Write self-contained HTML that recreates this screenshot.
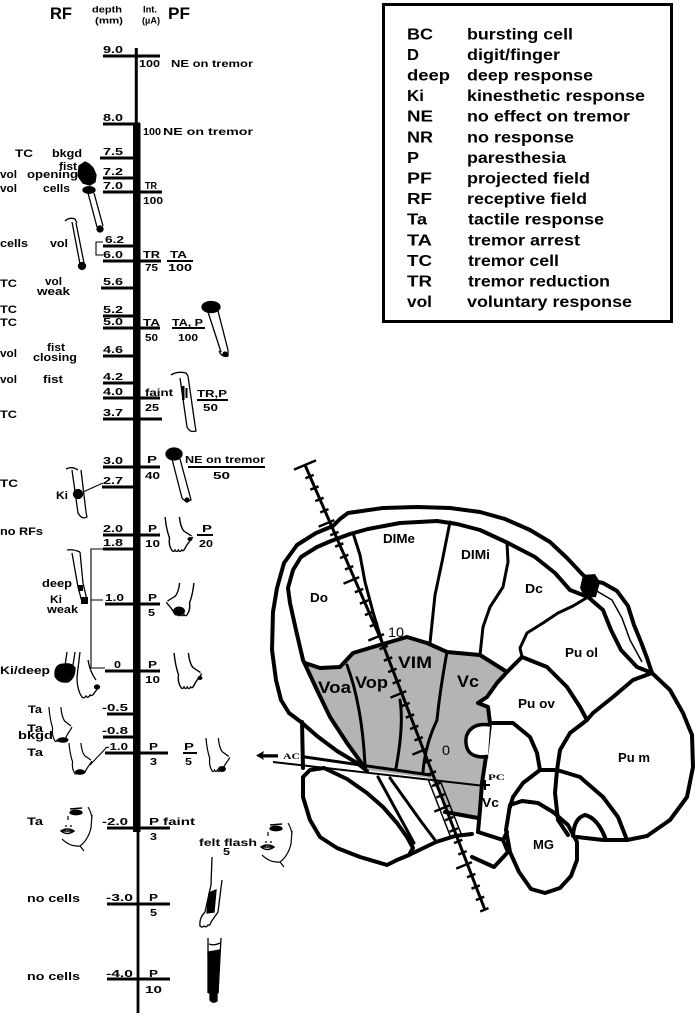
<!DOCTYPE html>
<html><head><meta charset="utf-8"><style>
html,body{margin:0;padding:0;background:#fff;}
svg{display:block}
text{font-family:"Liberation Sans",Arial,sans-serif;font-weight:bold;fill:#000}
.r{font-size:10.5px}
.l{font-size:11px}
.d{font-size:10px}
.g{font-size:16px}
.bn{font-size:13px}
.bv{font-size:17px}
.nm{font-weight:normal;font-size:14px}
.sf{font-family:"Liberation Serif",serif;font-size:8px}
</style></head><body>
<svg width="700" height="1016" viewBox="0 0 700 1016" xmlns="http://www.w3.org/2000/svg">
<defs>
<g id="h"><path d="M1,0 Q2,12 5,21 Q4,28 7,33 q1.5,3 3,0 q1.5,3 3,0 q1.5,3 3,0 q1.5,2 3,-1.5 Q21,27 25,22 L26,20 M14,0 Q15,10 18,14 L25,19" fill="none" stroke="#000" stroke-width="1.3"/></g>
<g id="face">
<path d="M70,809 L82,808" stroke="#000" stroke-width="1.5"/>
<ellipse cx="76" cy="812.5" rx="6" ry="2.2" fill="#000"/>
<path d="M68,816 L68,820 M65,826 l2,0 M70,826 l2,0" stroke="#000" stroke-width="1.2"/>
<path d="M61,831 Q67,827 74,831 Q67,836 61,831 Z M62,831 L73,831" fill="none" stroke="#000" stroke-width="1.4"/>
<path d="M62,839 Q70,847 80,846 Q88,840 91,828 L92,815 M88,807 Q91,812 92,818 M80,846 L84,851" fill="none" stroke="#000" stroke-width="1.2"/>
</g>
</defs>

<!-- header -->
<text x="50" y="19" font-size="17" textLength="22" lengthAdjust="spacingAndGlyphs">RF</text>
<text x="92" y="12.5" font-size="9" textLength="30" lengthAdjust="spacingAndGlyphs">depth</text>
<text x="95" y="23.5" font-size="9" textLength="28" lengthAdjust="spacingAndGlyphs">(mm)</text>
<text x="143" y="12.5" font-size="9" textLength="14" lengthAdjust="spacingAndGlyphs">Int.</text>
<text x="142" y="23.5" font-size="9" textLength="18" lengthAdjust="spacingAndGlyphs">(µA)</text>
<text x="168" y="19" font-size="17" textLength="22" lengthAdjust="spacingAndGlyphs">PF</text>

<!-- legend -->
<rect x="383.5" y="4.5" width="288" height="317" fill="none" stroke="#000" stroke-width="3"/>
<g class="g">
<text x="407" y="39.3" textLength="26" lengthAdjust="spacingAndGlyphs">BC</text><text x="467" y="39.3" textLength="106" lengthAdjust="spacingAndGlyphs">bursting cell</text>
<text x="407" y="59.9" textLength="12" lengthAdjust="spacingAndGlyphs">D</text><text x="467" y="59.9" textLength="93" lengthAdjust="spacingAndGlyphs">digit/finger</text>
<text x="407" y="80.5" textLength="43" lengthAdjust="spacingAndGlyphs">deep</text><text x="467" y="80.5" textLength="126" lengthAdjust="spacingAndGlyphs">deep response</text>
<text x="407" y="101.1" textLength="17" lengthAdjust="spacingAndGlyphs">Ki</text><text x="467" y="101.1" textLength="178" lengthAdjust="spacingAndGlyphs">kinesthetic response</text>
<text x="407" y="121.7" textLength="26" lengthAdjust="spacingAndGlyphs">NE</text><text x="467" y="121.7" textLength="163" lengthAdjust="spacingAndGlyphs">no effect on tremor</text>
<text x="407" y="142.3" textLength="26" lengthAdjust="spacingAndGlyphs">NR</text><text x="467" y="142.3" textLength="107" lengthAdjust="spacingAndGlyphs">no response</text>
<text x="407" y="162.9" textLength="12" lengthAdjust="spacingAndGlyphs">P</text><text x="467" y="162.9" textLength="99" lengthAdjust="spacingAndGlyphs">paresthesia</text>
<text x="407" y="183.5" textLength="25" lengthAdjust="spacingAndGlyphs">PF</text><text x="467" y="183.5" textLength="123" lengthAdjust="spacingAndGlyphs">projected field</text>
<text x="407" y="204.1" textLength="25" lengthAdjust="spacingAndGlyphs">RF</text><text x="467" y="204.1" textLength="120" lengthAdjust="spacingAndGlyphs">receptive field</text>
<text x="407" y="224.7" textLength="20" lengthAdjust="spacingAndGlyphs">Ta</text><text x="468" y="224.7" textLength="136" lengthAdjust="spacingAndGlyphs">tactile response</text>
<text x="407" y="245.3" textLength="25" lengthAdjust="spacingAndGlyphs">TA</text><text x="468" y="245.3" textLength="112" lengthAdjust="spacingAndGlyphs">tremor arrest</text>
<text x="407" y="265.9" textLength="25" lengthAdjust="spacingAndGlyphs">TC</text><text x="468" y="265.9" textLength="91" lengthAdjust="spacingAndGlyphs">tremor cell</text>
<text x="407" y="286.5" textLength="25" lengthAdjust="spacingAndGlyphs">TR</text><text x="468" y="286.5" textLength="142" lengthAdjust="spacingAndGlyphs">tremor reduction</text>
<text x="407" y="307.1" textLength="25" lengthAdjust="spacingAndGlyphs">vol</text><text x="467" y="307.1" textLength="165" lengthAdjust="spacingAndGlyphs">voluntary response</text>
</g>

<!-- main vertical -->
<line x1="136.3" y1="48" x2="136.3" y2="125" stroke="#000" stroke-width="3"/>
<rect x="133" y="123" width="7.5" height="709" fill="#000"/>
<line x1="138" y1="830" x2="138" y2="1013" stroke="#000" stroke-width="2.8"/>

<!-- depth lines -->
<g stroke="#000" stroke-width="3">
<path d="M103,56H160 M103,124H140 M100,158H134 M103,178H134 M103,192H162 M103,246H134 M103,261H161 M101,288H134 M103,316H134 M103,328H160 M103,356H134 M103,383H134 M103,398H160 M103,419H162 M103,467H160 M102,487H134 M103,535H160 M103,549H134 M105,604H160 M105,671H160 M107,714H134 M103,737H134 M105,753H168 M107,828H170 M107,904H170 M107,979H170"/>
</g>
<g stroke="#000" stroke-width="2">
<path d="M167,261H193 M172,328H205 M197,400H228 M188,467H265 M197,535H213 M183,753H197"/>
</g>
<!-- brackets / connectors -->
<g stroke="#000" stroke-width="1.1" fill="none">
<path d="M103,242H96V255H103"/>
<path d="M105,549H91V668H105 M91,600H103"/>
<path d="M83,492L103,483"/>
<path d="M90,765L106,748"/>
</g>

<!-- depth labels -->
<g class="d">
<text x="103" y="53" textLength="20" lengthAdjust="spacingAndGlyphs">9.0</text>
<text x="103" y="121" textLength="20" lengthAdjust="spacingAndGlyphs">8.0</text>
<text x="103" y="155" textLength="20" lengthAdjust="spacingAndGlyphs">7.5</text>
<text x="103" y="175" textLength="20" lengthAdjust="spacingAndGlyphs">7.2</text>
<text x="103" y="189" textLength="20" lengthAdjust="spacingAndGlyphs">7.0</text>
<text x="105" y="243" textLength="19" lengthAdjust="spacingAndGlyphs">6.2</text>
<text x="103" y="258" textLength="20" lengthAdjust="spacingAndGlyphs">6.0</text>
<text x="103" y="285" textLength="20" lengthAdjust="spacingAndGlyphs">5.6</text>
<text x="103" y="313" textLength="20" lengthAdjust="spacingAndGlyphs">5.2</text>
<text x="103" y="325" textLength="20" lengthAdjust="spacingAndGlyphs">5.0</text>
<text x="103" y="353" textLength="20" lengthAdjust="spacingAndGlyphs">4.6</text>
<text x="103" y="380" textLength="20" lengthAdjust="spacingAndGlyphs">4.2</text>
<text x="103" y="395" textLength="20" lengthAdjust="spacingAndGlyphs">4.0</text>
<text x="103" y="416" textLength="20" lengthAdjust="spacingAndGlyphs">3.7</text>
<text x="103" y="464" textLength="20" lengthAdjust="spacingAndGlyphs">3.0</text>
<text x="103" y="484" textLength="20" lengthAdjust="spacingAndGlyphs">2.7</text>
<text x="103" y="532" textLength="20" lengthAdjust="spacingAndGlyphs">2.0</text>
<text x="103" y="546" textLength="20" lengthAdjust="spacingAndGlyphs">1.8</text>
<text x="105" y="601" textLength="19" lengthAdjust="spacingAndGlyphs">1.0</text>
<text x="114" y="668" textLength="7" lengthAdjust="spacingAndGlyphs">0</text>
<text x="102" y="711" textLength="26" lengthAdjust="spacingAndGlyphs">-0.5</text>
<text x="102" y="734" textLength="26" lengthAdjust="spacingAndGlyphs">-0.8</text>
<text x="105" y="750" textLength="23" lengthAdjust="spacingAndGlyphs">-1.0</text>
<text x="102" y="825" textLength="26" lengthAdjust="spacingAndGlyphs">-2.0</text>
<text x="106" y="901" textLength="27" lengthAdjust="spacingAndGlyphs">-3.0</text>
<text x="106" y="977" textLength="27" lengthAdjust="spacingAndGlyphs">-4.0</text>
</g>

<!-- PF labels -->
<g class="r">
<text x="139" y="67" textLength="21" lengthAdjust="spacingAndGlyphs">100</text>
<text x="171" y="67" textLength="82" lengthAdjust="spacingAndGlyphs">NE on tremor</text>
<text x="143" y="135" textLength="18" lengthAdjust="spacingAndGlyphs">100</text>
<text x="163" y="135" textLength="90" lengthAdjust="spacingAndGlyphs">NE on tremor</text>
<text x="145" y="189" textLength="12" lengthAdjust="spacingAndGlyphs">TR</text>
<text x="143" y="204" textLength="20" lengthAdjust="spacingAndGlyphs">100</text>
<text x="143" y="258" textLength="17" lengthAdjust="spacingAndGlyphs">TR</text>
<text x="145" y="271" textLength="13" lengthAdjust="spacingAndGlyphs">75</text>
<text x="170" y="258" textLength="17" lengthAdjust="spacingAndGlyphs">TA</text>
<text x="168" y="271" textLength="24" lengthAdjust="spacingAndGlyphs">100</text>
<text x="143" y="326" textLength="17" lengthAdjust="spacingAndGlyphs">TA</text>
<text x="145" y="341" textLength="13" lengthAdjust="spacingAndGlyphs">50</text>
<text x="172" y="326" textLength="31" lengthAdjust="spacingAndGlyphs">TA, P</text>
<text x="178" y="341" textLength="20" lengthAdjust="spacingAndGlyphs">100</text>
<text x="145" y="396" textLength="28" lengthAdjust="spacingAndGlyphs">faint</text>
<text x="145" y="411" textLength="14" lengthAdjust="spacingAndGlyphs">25</text>
<text x="197" y="397" textLength="30" lengthAdjust="spacingAndGlyphs">TR,P</text>
<text x="203" y="411" textLength="15" lengthAdjust="spacingAndGlyphs">50</text>
<text x="147" y="463" textLength="10" lengthAdjust="spacingAndGlyphs">P</text>
<text x="145" y="479" textLength="15" lengthAdjust="spacingAndGlyphs">40</text>
<text x="185" y="463" textLength="80" lengthAdjust="spacingAndGlyphs">NE on tremor</text>
<text x="213" y="479" textLength="17" lengthAdjust="spacingAndGlyphs">50</text>
<text x="148" y="532" textLength="9" lengthAdjust="spacingAndGlyphs">P</text>
<text x="145" y="547" textLength="15" lengthAdjust="spacingAndGlyphs">10</text>
<text x="202" y="532" textLength="10" lengthAdjust="spacingAndGlyphs">P</text>
<text x="199" y="547" textLength="14" lengthAdjust="spacingAndGlyphs">20</text>
<text x="148" y="601" textLength="9" lengthAdjust="spacingAndGlyphs">P</text>
<text x="148" y="616" textLength="7" lengthAdjust="spacingAndGlyphs">5</text>
<text x="148" y="668" textLength="9" lengthAdjust="spacingAndGlyphs">P</text>
<text x="145" y="683" textLength="15" lengthAdjust="spacingAndGlyphs">10</text>
<text x="149" y="750" textLength="9" lengthAdjust="spacingAndGlyphs">P</text>
<text x="150" y="765" textLength="7" lengthAdjust="spacingAndGlyphs">3</text>
<text x="184" y="750" textLength="10" lengthAdjust="spacingAndGlyphs">P</text>
<text x="185" y="765" textLength="7" lengthAdjust="spacingAndGlyphs">5</text>
<text x="149" y="825" textLength="46" lengthAdjust="spacingAndGlyphs">P faint</text>
<text x="150" y="840" textLength="7" lengthAdjust="spacingAndGlyphs">3</text>
<text x="199" y="846" textLength="58" lengthAdjust="spacingAndGlyphs">felt flash</text>
<text x="223" y="855" textLength="7" lengthAdjust="spacingAndGlyphs">5</text>
<text x="149" y="901" textLength="9" lengthAdjust="spacingAndGlyphs">P</text>
<text x="150" y="916" textLength="7" lengthAdjust="spacingAndGlyphs">5</text>
<text x="149" y="977" textLength="9" lengthAdjust="spacingAndGlyphs">P</text>
<text x="145" y="993" textLength="17" lengthAdjust="spacingAndGlyphs">10</text>
</g>

<!-- RF labels -->
<g class="l">
<text x="15" y="157" textLength="18" lengthAdjust="spacingAndGlyphs">TC</text>
<text x="52" y="157" textLength="30" lengthAdjust="spacingAndGlyphs">bkgd</text>
<text x="59" y="170" textLength="18" lengthAdjust="spacingAndGlyphs">fist</text>
<text x="0" y="178" textLength="17" lengthAdjust="spacingAndGlyphs">vol</text>
<text x="27" y="178" textLength="51" lengthAdjust="spacingAndGlyphs">opening</text>
<text x="0" y="192" textLength="17" lengthAdjust="spacingAndGlyphs">vol</text>
<text x="43" y="192" textLength="27" lengthAdjust="spacingAndGlyphs">cells</text>
<text x="0" y="247" textLength="28" lengthAdjust="spacingAndGlyphs">cells</text>
<text x="50" y="247" textLength="18" lengthAdjust="spacingAndGlyphs">vol</text>
<text x="0" y="287" textLength="17" lengthAdjust="spacingAndGlyphs">TC</text>
<text x="45" y="285" textLength="17" lengthAdjust="spacingAndGlyphs">vol</text>
<text x="37" y="295" textLength="33" lengthAdjust="spacingAndGlyphs">weak</text>
<text x="0" y="313" textLength="17" lengthAdjust="spacingAndGlyphs">TC</text>
<text x="0" y="326" textLength="17" lengthAdjust="spacingAndGlyphs">TC</text>
<text x="0" y="357" textLength="17" lengthAdjust="spacingAndGlyphs">vol</text>
<text x="47" y="351" textLength="18" lengthAdjust="spacingAndGlyphs">fist</text>
<text x="33" y="361" textLength="44" lengthAdjust="spacingAndGlyphs">closing</text>
<text x="0" y="383" textLength="17" lengthAdjust="spacingAndGlyphs">vol</text>
<text x="43" y="383" textLength="20" lengthAdjust="spacingAndGlyphs">fist</text>
<text x="0" y="418" textLength="17" lengthAdjust="spacingAndGlyphs">TC</text>
<text x="0" y="487" textLength="18" lengthAdjust="spacingAndGlyphs">TC</text>
<text x="56" y="499" textLength="12" lengthAdjust="spacingAndGlyphs">Ki</text>
<text x="0" y="535" textLength="43" lengthAdjust="spacingAndGlyphs">no RFs</text>
<text x="42" y="587" textLength="30" lengthAdjust="spacingAndGlyphs">deep</text>
<text x="50" y="603" textLength="12" lengthAdjust="spacingAndGlyphs">Ki</text>
<text x="47" y="613" textLength="31" lengthAdjust="spacingAndGlyphs">weak</text>
<text x="0" y="674" textLength="50" lengthAdjust="spacingAndGlyphs">Ki/deep</text>
<text x="28" y="713" textLength="14" lengthAdjust="spacingAndGlyphs">Ta</text>
<text x="27" y="732" textLength="16" lengthAdjust="spacingAndGlyphs">Ta</text>
<text x="18" y="739" textLength="35" lengthAdjust="spacingAndGlyphs">bkgd</text>
<text x="27" y="756" textLength="16" lengthAdjust="spacingAndGlyphs">Ta</text>
<text x="27" y="825" textLength="16" lengthAdjust="spacingAndGlyphs">Ta</text>
<text x="27" y="902" textLength="53" lengthAdjust="spacingAndGlyphs">no cells</text>
<text x="27" y="980" textLength="53" lengthAdjust="spacingAndGlyphs">no cells</text>
</g>

<!-- drawings -->
<g stroke="#000" stroke-width="1.3" fill="none">
<!-- fist arm -->
<path d="M79,166 L85,162 L89,164 L93,168 L96,175 L95,182 L90,185 L83,183 L78,176 Z" fill="#000"/>
<ellipse cx="89" cy="190" rx="6" ry="3.3" fill="#000"/>
<path d="M88,193 L97,227 M94,193 L103,226"/>
<circle cx="100" cy="229" r="3" fill="#000"/>
<!-- vol arm -->
<path d="M65,221 Q69,217 75,219 L77,223 M72,222 L80,264 M76,223 L84,263"/>
<circle cx="82" cy="266" r="3.5" fill="#000"/>
<!-- arm 5.0 PF -->
<ellipse cx="211" cy="307" rx="9" ry="5.5" fill="#000"/>
<path d="M208,312 L221,352 M218,311 L228,350 M219,351 Q222,358 228,356 L228,350"/>
<circle cx="225" cy="354" r="2" fill="#000"/>
<!-- arm 4.0 PF -->
<path d="M171,375 Q177,371 186,373 L188,376 M180,378 L187,427 M188,376 L195,425 M187,427 Q190,433 196,431 L195,425"/>
<rect x="182" y="386" width="2.5" height="14" fill="#000" stroke="none"/>
<rect x="185.5" y="388" width="2" height="10" fill="#000" stroke="none"/>
<!-- arm 3.0 PF -->
<ellipse cx="174" cy="454" rx="8" ry="6" fill="#000"/>
<path d="M172,459 L182,498 M180,459 L190,496 M182,498 Q186,503 191,500 L190,496"/>
<circle cx="187" cy="500" r="2" fill="#000"/>
<!-- TC Ki arm -->
<path d="M66,469 Q72,466 78,470 M72,470 L78,513 M81,470 L86,512 M78,513 Q82,520 87,517 L86,512"/>
<circle cx="78" cy="494" r="4.5" fill="#000"/>
<!-- deep Ki arm -->
<path d="M67,550 Q73,549 80,552 M72,553 L78,587 L82,602 M80,552 L83,583 L87,600"/>
<rect x="78" y="585" width="5" height="6" fill="#000" stroke="none"/>
<rect x="81" y="597" width="7" height="7" fill="#000" stroke="none"/>
<!-- Ki/deep -->
<path d="M67,652 L65,666 M75,652 L73,665"/>
<path d="M55,672 Q56,664 64,664 Q72,663 75,668 Q75,678 68,682 Q58,683 55,676 Z" fill="#000"/>
<path d="M80,652 L77,677 Q77,690 82,697 q2,2 4,-1 q2,3 4,-1 q2,2 5,-3 L98,688 M88,660 Q90,672 96,680"/>
<ellipse cx="97" cy="687" rx="2.5" ry="2" fill="#000"/>
<!-- faces -->
<use href="#face"/>
<use href="#face" transform="translate(200,16)"/>
<!-- arm -3.0 -->
<path d="M212,857 L211,885 L205,912 M222,880 L218,912 M205,912 Q199,918 200,926 q2,2 4,0 q2,2 4,-1 q2,1 3,-3 L218,912"/>
<path d="M209,893 L216,890 L214,912 L207,913 Z" fill="#000"/>
<!-- leg -4.0 -->
<path d="M208,938 L208,993 M221,938 L218,993 M209,944 Q214,946 220,943"/>
<path d="M208,952 L220,950 L218,993 L209,993 Z" fill="#000"/>
<path d="M210,993 L210,1000 Q213,1004 217,1001 L217,993 Z" fill="#000"/>
</g>
<!-- hands -->
<use href="#h" transform="translate(164,517) scale(1.1,1)"/>
<ellipse cx="190" cy="539" rx="2.5" ry="2"/>
<use href="#h" transform="translate(195,583) scale(-1.1,0.95)"/>
<ellipse cx="179" cy="611" rx="6" ry="4.5"/>
<use href="#h" transform="translate(173,653) scale(1.1,1.03)"/>
<ellipse cx="200" cy="678" rx="2.5" ry="2"/>
<use href="#h" transform="translate(48,707) scale(0.92,1)"/>
<ellipse cx="63" cy="740" rx="5.5" ry="2.8"/>
<use href="#h" transform="translate(68,743) scale(0.92,0.9)"/>
<ellipse cx="80" cy="772" rx="5" ry="2.8"/>
<use href="#h" transform="translate(205,738) scale(0.95,0.97)"/>
<ellipse cx="222" cy="769" rx="4" ry="3"/>

<!-- BRAIN -->
<path d="M305,663 L320,668 L340,667 L353,653 L373,647 L390,642 L407,637 L427,643 L447,652 L480,655 L507,672 L497,683 L487,697 L478,703 L488,707 L490,723 L487,750 L482,783 L480,810 L478,818 L462,816 L448,812 L440,795 L430,778 L365,770 L347,743 L330,717 L317,690 Z" fill="#b4b4b4"/>
<g stroke="#000" stroke-width="4" fill="none" stroke-linejoin="round" stroke-linecap="round">
<path d="M301,722 L289,713 L281,700 L276,680 L272,650 L273,612 L277,588 L284,563 L297,545 L316,533 L333,526 L340,519 L348,513 L383,508 L417,507 L450,508 L480,512 L505,519 L530,530 L550,542 L567,558 L583,575 L590,580 L603,583 L617,591 L628,606 L634,625 L641,642 L647,658 L652,673"/>
<path d="M303,660 L296,630 L290,603 L288,588 L293,570 L301,557 L317,547 L331,541 L350,534 L368,529 L400,523 L437,521 L457,524 L480,530 L508,543 L535,557 L555,573 L570,590 L588,597 L603,610 L611,630 L621,650 L637,667 L652,673"/>
<path d="M303,660 L317,690 L330,717 L347,743 L365,768"/>
<path d="M305,663 L320,668 L340,667 L353,653 L373,647 L390,642 L407,637 L427,643 L447,652 L480,655 L507,672 L522,657"/>
<path d="M507,672 L497,683 L487,697 L478,703 L488,707 L490,723"/>
<path d="M490,723 L487,750 L482,783 L480,810 L478,832"/>
<path d="M652,673 L670,690 L683,713 L692,735 L693,767 L687,797 L670,820 L647,836 L627,840 L603,840 L577,837"/>
<path d="M652,673 L633,680 L613,697 L593,713 L587,720"/>
<path d="M522,657 L547,667 L567,687 L580,707 L587,720"/>
<path d="M587,720 L570,733 L560,750 L557,770 L555,793 L558,820 L568,835"/>
<path d="M490,723 L513,723 L530,737 L537,753 L540,770 L557,770"/>
<path d="M540,770 L523,783 L513,797 L510,807 M557,770 L580,777 L603,797 L618,817 L627,840"/>
<path d="M573,836 Q574,818 585,815 Q598,818 606,840"/>
<path d="M510,805 L522,801 L538,803 L553,812 L568,825 L577,842 L577,860 L571,876 L560,888 L545,893 L531,889 L519,872 L510,852 L506,830 Z"/>
<path d="M478,832 L503,840 L508,852 L494,867 L472,857 M503,840 L507,832"/>
<path d="M301,722 L317,736 L337,751 L357,763 L367,771 M302,722 L303,768"/>
<path d="M303,777 L310,770 L324,768 L347,779 L367,793 L383,807 L397,823 L407,837 L413,848 L409,855 L397,860 L387,865 L360,857 L337,848 L320,837 L310,820 L303,797 Z"/>
<path d="M409,855 L436,842 L455,836 L472,834 M445,812 L478,818"/>
</g>
<g stroke="#000" stroke-width="3" fill="none" stroke-linejoin="round" stroke-linecap="round">
<path d="M353,533 L360,555 L365,582 L373,612 L382,642"/>
<path d="M450,522 L442,562 L435,595 L430,643"/>
<path d="M507,543 L508,562 L503,587 L490,607 L483,627 L480,655"/>
<path d="M588,597 L573,606 L558,613 L543,623 L527,633 L520,648 L522,657"/>
<path d="M347,665 Q362,705 365,765"/>
<path d="M400,700 Q404,725 396,768"/>
<path d="M447,652 Q440,690 437,720 Q425,745 423,772"/>
<path d="M378,777 L414,843 M390,778 L420,820 L435,840"/>
<path d="M305,757 L430,775"/>
</g>
<path d="M583,575 L595,574 L600,582 L596,597 L585,598 L580,588 Z" fill="#000"/>
<path d="M595,590 L612,600 L622,618 L630,640 L642,662" stroke="#000" stroke-width="1.5" fill="none"/>
<path d="M490,725 C470,722 463,735 467,748 C470,757 482,758 488,756" fill="#fff" stroke="#000" stroke-width="3.5"/>
<path d="M428,779 L451,838 M440,780 L462,836" stroke="#000" stroke-width="1.5" fill="none"/>
<!-- AC-PC -->
<path d="M273,762 L485,786" stroke="#000" stroke-width="2"/>
<path d="M256,755.5 L264,751 L263,754.3 L278,754.3 L278,757.5 L263,757.5 L264,760 Z" fill="#000"/>
<path d="M480,785 H490 M485,780 V790" stroke="#000" stroke-width="2"/>
<text class="sf" x="283" y="759" textLength="17" lengthAdjust="spacingAndGlyphs">AC</text>
<text class="sf" x="488" y="780" textLength="17" lengthAdjust="spacingAndGlyphs">PC</text>

<!-- trajectory -->
<path d="M305,465 L382,642 L485,910" stroke="#000" stroke-width="3" fill="none"/>
<g stroke="#000" stroke-width="2.5" fill="none">
<path d="M294,469.6 L316,460.4"/>
<path d="M305.4,478.3 l8.3,-3.4 M310.3,489.7 l8.3,-3.4 M315.3,501.1 l8.3,-3.4 M320.2,512.5 l8.3,-3.4 M330.2,535.3 l8.3,-3.4 M335.1,546.7 l8.3,-3.4 M340.1,558.1 l8.3,-3.4 M345.0,569.5 l8.3,-3.4 M354.9,592.3 l8.3,-3.4 M359.9,603.7 l8.3,-3.4 M364.9,615.1 l8.3,-3.4 M369.8,626.5 l8.3,-3.4 M379.5,649.3 l8.3,-3.4 M383.9,660.7 l8.3,-3.4 M388.2,672.1 l8.3,-3.4 M392.6,683.5 l8.3,-3.4 M401.4,706.3 l8.3,-3.4 M405.8,717.7 l8.3,-3.4 M410.1,729.1 l8.3,-3.4 M414.5,740.5 l8.3,-3.4 M423.3,763.3 l8.3,-3.4 M427.7,774.7 l8.3,-3.4 M432.0,786.1 l8.3,-3.4 M436.4,797.5 l8.3,-3.4 M445.2,820.3 l8.3,-3.4 M449.6,831.7 l8.3,-3.4 M454.0,843.1 l8.3,-3.4 M458.3,854.5 l8.3,-3.4 M467.1,877.3 l8.3,-3.4 M471.5,888.7 l8.3,-3.4 M475.9,900.1 l8.3,-3.4 M480.2,911.5 l8.3,-3.4"/>
<path d="M318.7,526.6 l15.7,-6.5 M343.5,583.6 l15.7,-6.5 M368.3,640.6 l15.7,-6.5 M390.5,697.6 l15.7,-6.5 M412.4,754.6 l15.7,-6.5 M434.3,811.6 l15.7,-6.5 M456.2,868.6 l15.7,-6.5"/>
</g>

<!-- brain labels -->
<g class="bn">
<text x="383" y="543" textLength="32" lengthAdjust="spacingAndGlyphs">DIMe</text>
<text x="461" y="559" textLength="29" lengthAdjust="spacingAndGlyphs">DIMi</text>
<text x="310" y="602" textLength="18" lengthAdjust="spacingAndGlyphs">Do</text>
<text x="525" y="593" textLength="18" lengthAdjust="spacingAndGlyphs">Dc</text>
<text x="565" y="657" textLength="33" lengthAdjust="spacingAndGlyphs">Pu ol</text>
<text x="518" y="708" textLength="37" lengthAdjust="spacingAndGlyphs">Pu ov</text>
<text x="618" y="762" textLength="32" lengthAdjust="spacingAndGlyphs">Pu m</text>
<text x="533" y="849" textLength="21" lengthAdjust="spacingAndGlyphs">MG</text>
<text x="482" y="807" textLength="17" lengthAdjust="spacingAndGlyphs">Vc</text>
</g>
<g class="bv">
<text x="398" y="668" textLength="34" lengthAdjust="spacingAndGlyphs">VIM</text>
<text x="318" y="693" textLength="33" lengthAdjust="spacingAndGlyphs">Voa</text>
<text x="355" y="688" textLength="33" lengthAdjust="spacingAndGlyphs">Vop</text>
<text x="457" y="687" textLength="22" lengthAdjust="spacingAndGlyphs">Vc</text>
</g>
<text class="nm" x="388" y="637" textLength="16" lengthAdjust="spacingAndGlyphs">10</text>
<text class="nm" x="442" y="755" textLength="8" lengthAdjust="spacingAndGlyphs">0</text>
</svg>
</body></html>
